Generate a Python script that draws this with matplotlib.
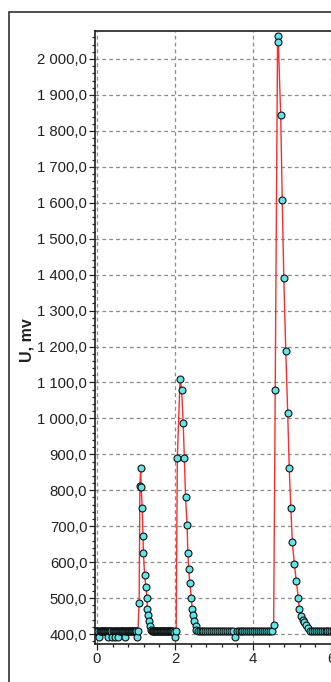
import numpy as np
import matplotlib
matplotlib.use("Agg")
import matplotlib.pyplot as plt
from matplotlib.patches import Rectangle
from matplotlib.ticker import MultipleLocator, FuncFormatter

plt.rcParams["savefig.bbox"] = "standard"

# ---- signal samples (time, U in mV) ----
# baseline before the first pulse, sampled every 0.02
base_a_t = np.round(-0.03 + 0.02 * np.arange(54), 3)
base_a_v = [408, 408, 408, 408, 391, 408, 408, 408, 408, 408,
            408, 408, 408, 408, 408, 408, 391, 408, 408, 408,
            408, 391, 408, 408, 408, 391, 408, 408, 408, 391,
            408, 408, 408, 408, 408, 408, 408, 391, 408, 408,
            408, 408, 408, 408, 408, 408, 408, 408, 408, 408,
            408, 408, 408, 391]

pulse1_t = [1.05, 1.08, 1.10, 1.12, 1.13, 1.16, 1.18, 1.19, 1.22, 1.25,
            1.28, 1.29, 1.31, 1.33, 1.36, 1.39]
pulse1_v = [408, 487, 812, 861, 810, 751, 672, 626, 565, 532,
            501, 469, 453, 437, 423, 411]

base_b_t = np.round(1.41 + 0.02 * np.arange(28), 3)
base_b_v = [408, 408, 408, 408, 408, 408, 408, 408, 408, 408,
            408, 408, 408, 408, 408, 408, 408, 408, 408, 408,
            408, 408, 408, 408, 408, 408, 408, 408]

pulse2_t = [1.97, 2.00, 2.03, 2.06, 2.13, 2.17, 2.21, 2.24, 2.27, 2.31,
            2.33, 2.35, 2.38, 2.42, 2.44, 2.47, 2.49, 2.53, 2.55]
pulse2_v = [406, 391, 408, 890, 1109, 1079, 986, 890, 782, 703,
            626, 581, 541, 501, 469, 453, 437, 423, 411]

base_c_t = np.round(2.58 + 0.05 * np.arange(39), 3)
base_c_v = [408, 408, 408, 408, 408, 408, 408, 408, 408, 408,
            408, 408, 408, 408, 408, 408, 408, 408, 408, 391,
            408, 408, 408, 408, 408, 408, 408, 408, 408, 408,
            408, 408, 408, 408, 408, 408, 408, 408, 408]

pulse3_t = [4.53, 4.57, 4.63, 4.65, 4.71, 4.75, 4.79, 4.84, 4.89, 4.93,
            4.97, 5.01, 5.06, 5.11, 5.16, 5.19, 5.23, 5.27, 5.31, 5.36, 5.42]
pulse3_v = [425, 1079, 2064, 2046, 1843, 1608, 1390, 1188, 1014, 861,
            750, 655, 594, 548, 501, 469, 451, 440, 434, 425, 416]

base_d_t = np.round(5.46 + 0.05 * np.arange(32), 3)
base_d_v = [408, 408, 408, 408, 408, 408, 408, 408, 408, 408,
            408, 408, 408, 408, 408, 408, 408, 408, 408, 408,
            408, 408, 408, 408, 408, 408, 408, 408, 408, 408,
            408, 408]

y_ticks = np.arange(400, 2001, 100)
x_ticks = [0, 2, 4, 6]
y_label = "U, mv"

t = np.concatenate([base_a_t, pulse1_t, base_b_t, pulse2_t, base_c_t,
                    pulse3_t, base_d_t])
u = np.concatenate([base_a_v, pulse1_v, base_b_v, pulse2_v, base_c_v,
                    pulse3_v, base_d_v]).astype(float)

# ---- figure ----
W, H = 331, 682
fig = plt.figure(figsize=(W / 100, H / 100), dpi=100)
fig.patch.set_facecolor("white")

# outer panel frame (its right and bottom edges run past the canvas)
fig.add_artist(Rectangle((9 / W, -0.05), 1.1, 1.05 - 12 / H,
                         transform=fig.transFigure, fill=False,
                         edgecolor="#303030", linewidth=1.2))

px_per_unit = 39.0
x0_px = 97.0
left_px, right_px = 95.0, 370.0
top_px, bottom_px = 31.0, 644.3
ax = fig.add_axes([left_px / W, 1 - bottom_px / H,
                   (right_px - left_px) / W, (bottom_px - top_px) / H])

ax.plot(t, u, color="#ff2a2a", linewidth=1.0, zorder=3)
ax.plot(t, u, linestyle="none", marker="o", markersize=5.0,
        markerfacecolor="#66e3e6", markeredgecolor="#101010",
        markeredgewidth=0.8, zorder=4)

ax.set_xticks(x_ticks)
ax.set_yticks(y_ticks)
ax.xaxis.set_minor_locator(MultipleLocator(0.4))
ax.yaxis.set_minor_locator(MultipleLocator(20))

ax.set_xlim((left_px - x0_px) / px_per_unit, (right_px - x0_px) / px_per_unit)
px_per_mv = (634 - 59) / 1600.0
ax.set_ylim(400 - (bottom_px - 634) / px_per_mv, 2000 + (59 - top_px) / px_per_mv)


def fmt_mv(v, pos):
    s = f"{v:,.1f}"
    return s.replace(",", " ").replace(".", ",")


ax.yaxis.set_major_formatter(FuncFormatter(fmt_mv))
ax.xaxis.set_major_formatter(FuncFormatter(lambda v, p: f"{v:g}"))

ax.grid(True, which="major", color="#8a8a8a", linestyle=(0, (3, 2.5)),
        linewidth=0.9)
ax.set_axisbelow(True)

for side in ("left", "bottom", "top"):
    ax.spines[side].set_color("#202020")
    ax.spines[side].set_linewidth(1.2)
ax.spines["right"].set_visible(False)

ax.tick_params(axis="both", which="major", direction="out", length=4,
               width=0.9, color="#202020", labelsize=10.7, pad=1.5)
ax.tick_params(axis="both", which="minor", direction="out", length=2.5,
               width=0.9, color="#202020")
for lab in ax.get_xticklabels() + ax.get_yticklabels():
    lab.set_fontfamily("Liberation Sans")
    lab.set_color("#202020")

fig.text(27 / W, 1 - 340 / H, y_label, rotation=90, ha="center", va="center",
         fontsize=11.5, fontweight="bold", family="Liberation Sans",
         color="#202020")

fig.savefig("out.png", dpi=100)
